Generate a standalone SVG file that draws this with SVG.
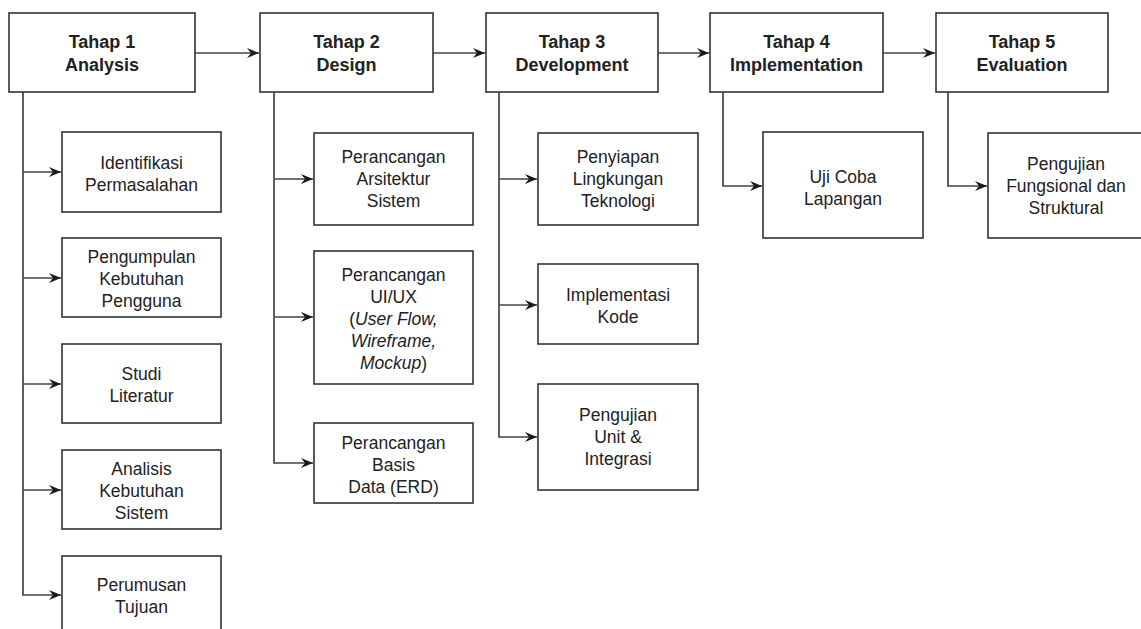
<svg xmlns="http://www.w3.org/2000/svg" width="1141" height="629" viewBox="0 0 1141 629">
<style>
.box{fill:#fff;stroke:#333;stroke-width:1.6}
.h{font-family:"Liberation Sans",Arial,sans-serif;font-size:18px;font-weight:bold;fill:#222;text-anchor:middle}
.t{font-family:"Liberation Sans",Arial,sans-serif;font-size:17.5px;fill:#222;text-anchor:middle}
.it{font-style:italic}
.c{fill:none;stroke:#444;stroke-width:1.7}
</style>
<defs>
<marker id="ah" markerUnits="userSpaceOnUse" markerWidth="14" markerHeight="14" refX="12" refY="7" orient="auto">
<path d="M0,2 L12,7 L0,12 L4,7 Z" fill="#1a1a1a"/>
</marker>
</defs>
<rect width="1141" height="629" fill="#fff"/>
<g id="connectors">
<path class="c" d="M195,53 H259" marker-end="url(#ah)"/>
<path class="c" d="M433,53 H485" marker-end="url(#ah)"/>
<path class="c" d="M658,53 H709" marker-end="url(#ah)"/>
<path class="c" d="M883,53 H935" marker-end="url(#ah)"/>
<path class="c" d="M23,92 V595 H61" marker-end="url(#ah)"/>
<path class="c" d="M23,172 H61" marker-end="url(#ah)"/>
<path class="c" d="M23,278 H61" marker-end="url(#ah)"/>
<path class="c" d="M23,384 H61" marker-end="url(#ah)"/>
<path class="c" d="M23,490 H61" marker-end="url(#ah)"/>
<path class="c" d="M274,92 V463 H313" marker-end="url(#ah)"/>
<path class="c" d="M274,179 H313" marker-end="url(#ah)"/>
<path class="c" d="M274,317 H313" marker-end="url(#ah)"/>
<path class="c" d="M499,92 V437 H537" marker-end="url(#ah)"/>
<path class="c" d="M499,179 H537" marker-end="url(#ah)"/>
<path class="c" d="M499,305 H537" marker-end="url(#ah)"/>
<path class="c" d="M723,92 V186 H762" marker-end="url(#ah)"/>
<path class="c" d="M948,92 V186 H987" marker-end="url(#ah)"/>
</g>
<g id="tahap1"><rect class="box" x="9" y="13" width="186" height="79"/><text class="h" x="102" y="48">Tahap 1</text><text class="h" x="102" y="71">Analysis</text></g>
<g id="tahap2"><rect class="box" x="260" y="13" width="173" height="79"/><text class="h" x="346.5" y="48">Tahap 2</text><text class="h" x="346.5" y="71">Design</text></g>
<g id="tahap3"><rect class="box" x="486" y="13" width="172" height="79"/><text class="h" x="572" y="48">Tahap 3</text><text class="h" x="572" y="71">Development</text></g>
<g id="tahap4"><rect class="box" x="710" y="13" width="173" height="79"/><text class="h" x="796.5" y="48">Tahap 4</text><text class="h" x="796.5" y="71">Implementation</text></g>
<g id="tahap5"><rect class="box" x="936" y="13" width="172" height="79"/><text class="h" x="1022" y="48">Tahap 5</text><text class="h" x="1022" y="71">Evaluation</text></g>

<g id="identifikasi"><rect class="box" x="62" y="132" width="159" height="80"/><text class="t" x="141.5" y="169">Identifikasi</text><text class="t" x="141.5" y="191">Permasalahan</text></g>
<g id="pengumpulan"><rect class="box" x="62" y="238" width="159" height="79"/><text class="t" x="141.5" y="263">Pengumpulan</text><text class="t" x="141.5" y="285">Kebutuhan</text><text class="t" x="141.5" y="307">Pengguna</text></g>
<g id="studi"><rect class="box" x="62" y="344" width="159" height="79"/><text class="t" x="141.5" y="380">Studi</text><text class="t" x="141.5" y="402">Literatur</text></g>
<g id="analisis"><rect class="box" x="62" y="450" width="159" height="79"/><text class="t" x="141.5" y="475">Analisis</text><text class="t" x="141.5" y="497">Kebutuhan</text><text class="t" x="141.5" y="519">Sistem</text></g>
<g id="perumusan"><rect class="box" x="62" y="556" width="159" height="80"/><text class="t" x="141.5" y="591">Perumusan</text><text class="t" x="141.5" y="613">Tujuan</text></g>

<g id="arsitektur"><rect class="box" x="314" y="133" width="159" height="92"/><text class="t" x="393.5" y="163">Perancangan</text><text class="t" x="393.5" y="185">Arsitektur</text><text class="t" x="393.5" y="207">Sistem</text></g>
<g id="uiux"><rect class="box" x="314" y="251" width="159" height="133"/><text class="t" x="393.5" y="281">Perancangan</text><text class="t" x="393.5" y="303">UI/UX</text><text class="t" x="393.5" y="325">(<tspan class="it">User Flow,</tspan></text><text class="t it" x="393.5" y="347">Wireframe,</text><text class="t" x="393.5" y="369"><tspan class="it">Mockup</tspan>)</text></g>
<g id="basisdata"><rect class="box" x="314" y="423" width="159" height="80"/><text class="t" x="393.5" y="449">Perancangan</text><text class="t" x="393.5" y="471">Basis</text><text class="t" x="393.5" y="493">Data (ERD)</text></g>

<g id="penyiapan"><rect class="box" x="538" y="133" width="160" height="92"/><text class="t" x="618" y="163">Penyiapan</text><text class="t" x="618" y="185">Lingkungan</text><text class="t" x="618" y="207">Teknologi</text></g>
<g id="implementasi"><rect class="box" x="538" y="264" width="160" height="80"/><text class="t" x="618" y="301">Implementasi</text><text class="t" x="618" y="323">Kode</text></g>
<g id="pengujianunit"><rect class="box" x="538" y="384" width="160" height="106"/><text class="t" x="618" y="421">Pengujian</text><text class="t" x="618" y="443">Unit &amp;</text><text class="t" x="618" y="465">Integrasi</text></g>

<g id="ujicoba"><rect class="box" x="763" y="132" width="160" height="106"/><text class="t" x="843" y="183">Uji Coba</text><text class="t" x="843" y="205">Lapangan</text></g>
<g id="pengujianfungsional"><rect class="box" x="988" y="133" width="160" height="105"/><text class="t" x="1066" y="170">Pengujian</text><text class="t" x="1066" y="192">Fungsional dan</text><text class="t" x="1066" y="214">Struktural</text></g>
</svg>
